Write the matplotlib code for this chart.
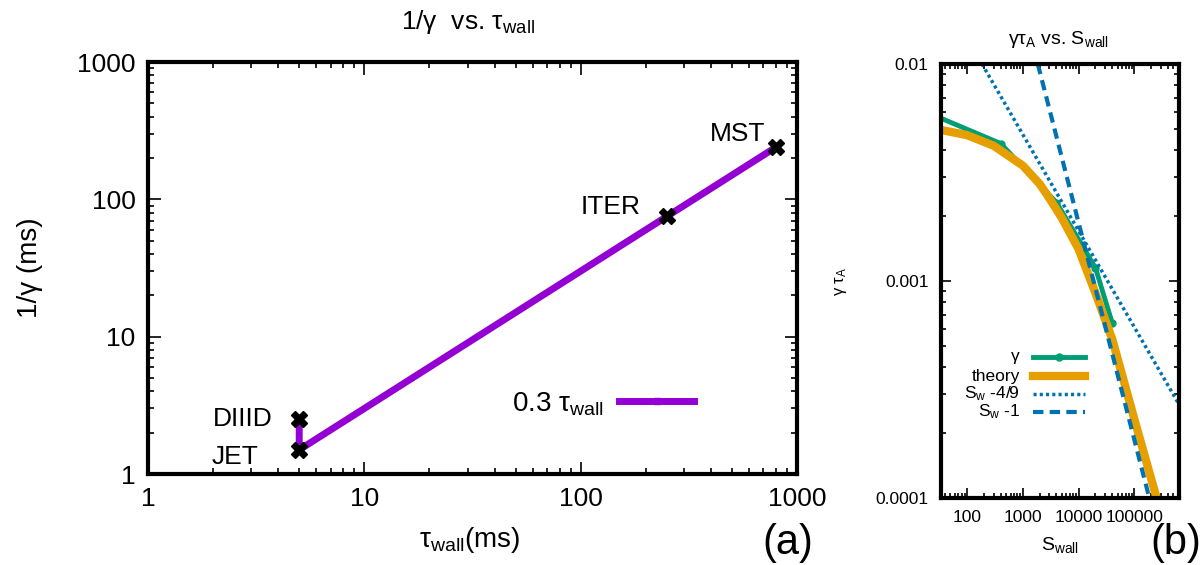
import numpy as np
import matplotlib.pyplot as plt
from matplotlib.lines import Line2D
from matplotlib.ticker import LogLocator, NullFormatter, FixedLocator, FixedFormatter

plt.rcParams["font.family"] = ["Liberation Sans", "DejaVu Sans"]
plt.rcParams["mathtext.fontset"] = "custom"
plt.rcParams["mathtext.rm"] = "Liberation Sans"
plt.rcParams["mathtext.it"] = "Liberation Sans:italic"

# (a) 1/gamma vs tau_wall
machines = ["DIIID", "JET", "ITER", "MST"]
tau_wall = [5, 5, 250, 800]
inv_gamma = [2.5, 1.5, 75, 240]

# (b) gamma*tau_A vs S_wall
s_sim = [30, 400, 4000, 20000, 40000]
g_sim = [0.0057, 0.0043, 0.0023, 0.00115, 0.00064]
s_theory = [30, 100, 300, 1000, 2000, 3000, 5000, 10000, 20000, 40000, 100000, 250000, 500000]
g_theory = [0.0050, 0.0047, 0.0042, 0.0034, 0.0028, 0.0024, 0.00195, 0.0014, 0.00088, 0.00054, 0.00023, 0.0001, 0.00005]
s_fit49 = [185, 630000]
g_fit49 = [0.01, 0.00027]
s_fit1 = [1850, 185000]
g_fit1 = [0.01, 0.0001]

purple = "#9400D3"
green = "#009E73"
orange = "#E69F00"
blue = "#0072B2"

fig = plt.figure(figsize=(12.02, 5.65), dpi=100, facecolor="white")
W, H = 1202, 565


def box(l, r, t, b):
    return [l / W, 1 - b / H, (r - l) / W, (b - t) / H]


def px(x, y):
    return x / W, 1 - y / H


def style(ax, lw):
    for s in ax.spines.values():
        s.set_linewidth(lw)
    ax.tick_params(which="both", direction="in", top=True, right=True, width=1.2)
    ax.xaxis.set_minor_locator(LogLocator(subs=np.arange(2, 10)))
    ax.yaxis.set_minor_locator(LogLocator(subs=np.arange(2, 10)))
    ax.xaxis.set_minor_formatter(NullFormatter())
    ax.yaxis.set_minor_formatter(NullFormatter())


# ---- panel (a)
ax1 = fig.add_axes(box(148, 797, 62, 474))
ax1.plot(tau_wall, inv_gamma, color=purple, lw=5, marker="s", ms=4, label=r"0.3 τ$_{\rm wall}$", zorder=2)
ax1.plot(tau_wall, inv_gamma, ls="none", marker="X", ms=12, color="black", zorder=3)
ax1.set_xscale("log")
ax1.set_yscale("log")
ax1.set_xlim(1, 1000)
ax1.set_ylim(1, 1000)
style(ax1, 3)
ax1.tick_params(which="major", length=9, labelsize=19, pad=9)
ax1.tick_params(which="minor", length=4.5)
ax1.xaxis.set_major_locator(FixedLocator([1, 10, 100, 1000]))
ax1.xaxis.set_major_formatter(FixedFormatter(["1", "10", "100", "1000"]))
ax1.yaxis.set_major_locator(FixedLocator([1, 10, 100, 1000]))
ax1.yaxis.set_major_formatter(FixedFormatter(["1", "10", "100", "1000"]))

offs = {"DIIID": (-19, 0), "JET": (-29, -5), "ITER": (-19, 7), "MST": (-8, 9.5)}
for name, x, y in zip(machines, tau_wall, inv_gamma):
    dx, dy = offs[name]
    ax1.annotate(name, (x, y), xytext=(dx, dy), textcoords="offset points",
                 ha="right", va="center", fontsize=19)

ax1.legend(loc="center right", bbox_to_anchor=(0.8415, 0.17), frameon=False, markerfirst=False,
           fontsize=20, handlelength=2.7, borderpad=0, borderaxespad=0, handletextpad=0.55)

fig.text(*px(468, 22), r"1/γ  vs. τ$_{\rm wall}$", ha="center", va="center", fontsize=19)
fig.text(*px(470, 540), r"τ$_{\rm wall}$(ms)", ha="center", va="center", fontsize=20)
fig.text(*px(30, 268), "1/γ (ms)", ha="center", va="center", fontsize=20, rotation=90)
fig.text(*px(788, 543), "(a)", ha="center", va="center", fontsize=30)

# ---- panel (b)
ax2 = fig.add_axes(box(941, 1179, 64, 498))
ax2.plot(s_sim, g_sim, color=green, lw=3.5, marker="o", ms=5)
ax2.plot(s_theory, g_theory, color=orange, lw=6)
ax2.plot(s_fit49, g_fit49, color=blue, lw=2.5, ls=(0, (0.9, 0.9)))
ax2.plot(s_fit1, g_fit1, color=blue, lw=3, ls=(0, (2.5, 1.5)))
ax2.set_xscale("log")
ax2.set_yscale("log")
ax2.set_xlim(34, 630000)
ax2.set_ylim(0.0001, 0.01)
style(ax2, 3)
ax2.tick_params(which="major", length=7, labelsize=12.5, pad=9)
ax2.tick_params(which="minor", length=3.5)
ax2.xaxis.set_major_locator(FixedLocator([100, 1000, 10000, 100000]))
ax2.xaxis.set_major_formatter(FixedFormatter(["100", "1000", "10000", "100000"]))
ax2.yaxis.set_major_locator(FixedLocator([0.0001, 0.001, 0.01]))
ax2.yaxis.set_major_formatter(FixedFormatter(["0.0001", "0.001", "0.01"]))

# legend of (b), gnuplot style: text right aligned, sample to the right
keys = [("γ", dict(color=green, lw=3.5, marker="o", ms=5, markevery=[1])),
        ("theory", dict(color=orange, lw=6)),
        (r"S$_{\rm w}$ -4/9", dict(color=blue, lw=2.5, ls=(0, (0.9, 0.9)))),
        (r"S$_{\rm w}$ -1", dict(color=blue, lw=3, ls=(0, (2.5, 1.5))))]
rows = [357, 376, 394, 412]
for (lab, kw), yr in zip(keys, rows):
    fig.text(*px(1020, yr), lab, ha="right", va="center", fontsize=12.5)
    x0, y0 = px(1033, yr)
    x1, _ = px(1085, yr)
    fig.add_artist(Line2D([x0, (x0 + x1) / 2, x1], [y0, y0, y0], transform=fig.transFigure, **kw))

fig.text(*px(1058, 40), r"γτ$_{\rm A}$ vs. S$_{\rm wall}$", ha="center", va="center", fontsize=14)
fig.text(*px(1060, 545), r"S$_{\rm wall}$", ha="center", va="center", fontsize=14)
fig.text(*px(841, 281), r"γ τ$_{\rm A}$", ha="center", va="center", fontsize=12, rotation=90)
fig.text(*px(1201, 543), "(b)", ha="right", va="center", fontsize=30)

plt.savefig("out.png", dpi=100, facecolor="white")
